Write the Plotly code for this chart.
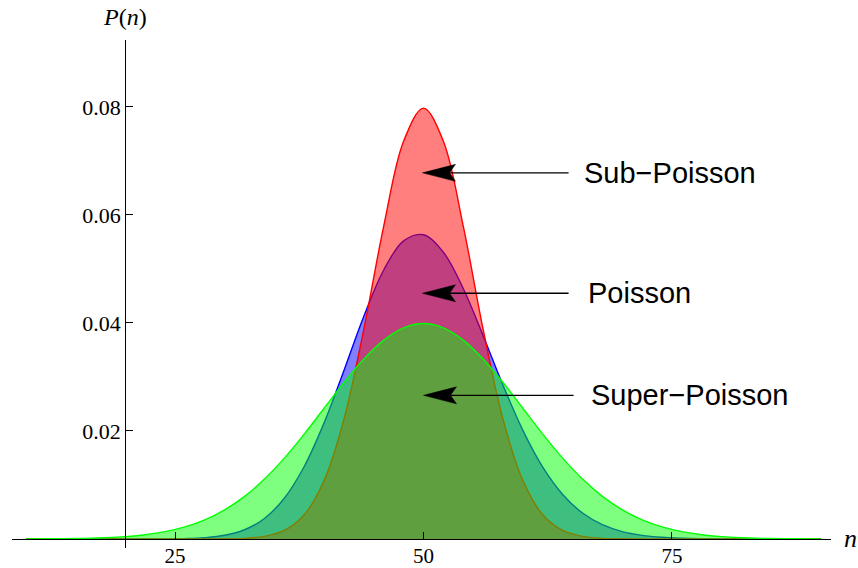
import plotly.graph_objects as go

# photon-number values n
n = [10, 12, 14, 16, 18, 20, 22, 24, 26, 28, 30, 32, 34, 36, 38, 40, 42, 44, 46, 48,
     50, 52, 54, 56, 58, 60, 62, 64, 66, 68, 70, 72, 74, 76, 78, 80, 82, 84, 86, 88, 90]

# probability P(n) for each statistics
p_poisson = [0, 0, 0, 0, 0, 0, 0, 0.00002, 0.00007, 0.00024, 0.00068, 0.00171, 0.00380,
             0.00755, 0.01342, 0.02150, 0.03121, 0.04124, 0.04981, 0.05520, 0.05633,
             0.05310, 0.04638, 0.03765, 0.02847, 0.02011, 0.01329, 0.00824, 0.00480,
             0.00264, 0.00136, 0.00067, 0.00031, 0.00014, 0.00006, 0.00002, 0, 0, 0, 0, 0]
p_sub = [0, 0, 0, 0, 0, 0, 0, 0, 0, 0, 0.00003, 0.00012, 0.00048, 0.00158, 0.00448,
         0.01080, 0.02218, 0.03884, 0.05794, 0.07366, 0.07979, 0.07366, 0.05794, 0.03884,
         0.02218, 0.01080, 0.00448, 0.00158, 0.00048, 0.00012, 0.00003,
         0, 0, 0, 0, 0, 0, 0, 0, 0, 0]
p_super = [0.00001, 0.00003, 0.00006, 0.00012, 0.00024, 0.00044, 0.00079, 0.00136, 0.00224,
           0.00355, 0.00540, 0.00789, 0.01109, 0.01497, 0.01942, 0.02420, 0.02897, 0.03332,
           0.03682, 0.03910, 0.03989, 0.03910, 0.03682, 0.03332, 0.02897, 0.02420, 0.01942,
           0.01497, 0.01109, 0.00789, 0.00540, 0.00355, 0.00224, 0.00136, 0.00079, 0.00044,
           0.00024, 0.00012, 0.00006, 0.00003, 0.00001]

x_ticks = [25, 50, 75]
y_ticks = [0.02, 0.04, 0.06, 0.08]
y_tick_text = ["0.02", "0.04", "0.06", "0.08"]

x_range = [8.6, 91.0]
y_range = [-0.00167, 0.0924]
axis_x = 20   # where the vertical axis crosses
axis_y = 0    # where the horizontal axis crosses

# label, label left edge, label/arrow height, arrow head x, arrow tail x
labels = [
    ("Sub\u2212Poisson", 65.95, 0.0678, 49.9, 64.6),
    ("Poisson", 66.35, 0.0455, 49.9, 64.6),
    ("Super\u2212Poisson", 66.65, 0.0266, 50.0, 65.1),
]

series = [
    (p_poisson, "rgb(0,0,255)", "rgba(0,0,255,0.5)"),
    (p_sub, "rgb(255,0,0)", "rgba(255,0,0,0.5)"),
    (p_super, "rgb(0,255,0)", "rgba(0,255,0,0.5)"),
]

fig = go.Figure()
for ys, lc, fc in series:
    fig.add_trace(go.Scatter(
        x=n, y=ys, mode="lines", fill="tozeroy",
        line=dict(color=lc, width=1.4, shape="spline", smoothing=1.0),
        fillcolor=fc, hoverinfo="skip", showlegend=False,
    ))

tick_font = dict(family="Liberation Serif", size=21, color="black")

xpos = (axis_y - y_range[0]) / (y_range[1] - y_range[0])
ypos = (axis_x - x_range[0]) / (x_range[1] - x_range[0])

fig.update_layout(
    width=858, height=568, autosize=False,
    margin=dict(l=12, r=27, t=40, b=20),
    paper_bgcolor="white", plot_bgcolor="white",
    xaxis=dict(range=x_range, anchor="free", position=xpos, showgrid=False,
               zeroline=False, showline=True, linecolor="black", linewidth=1.2,
               ticks="inside", ticklen=7, tickcolor="black", tickwidth=1,
               tickvals=x_ticks, tickfont=tick_font, automargin=False,
               ticklabelstandoff=-2),
    yaxis=dict(range=y_range, anchor="free", position=ypos, showgrid=False,
               zeroline=False, showline=True, linecolor="black", linewidth=1.2,
               ticks="inside", ticklen=7, tickcolor="black", tickwidth=1,
               tickvals=y_ticks, ticktext=y_tick_text,
               tickfont=dict(family="Liberation Serif", size=22, color="black"),
               automargin=False),
)

# arrows with notched heads
shapes = []
for text, lx, ly, hx, tx in labels:
    shapes.append(dict(type="line", xref="x", yref="y", x0=tx, x1=hx + 2.0, y0=ly, y1=ly,
                       line=dict(color="black", width=1.3)))
    shapes.append(dict(type="path", xref="x", yref="y", xsizemode="pixel", ysizemode="pixel",
                       xanchor=hx, yanchor=ly,
                       path="M0,0 L33,8.5 L27,0 L33,-8.5 Z",
                       fillcolor="black", line=dict(color="black", width=0.5)))
fig.update_layout(shapes=shapes)

annotations = []
for text, lx, ly, hx, tx in labels:
    annotations.append(dict(x=lx, y=ly, xref="x", yref="y", text=text, showarrow=False,
                            xanchor="left", yanchor="middle",
                            font=dict(family="Liberation Sans", size=29, color="black")))
annotations.append(dict(x=axis_x, y=1.045, xref="x", yref="paper", text="<i>P</i>(<i>n</i>)",
                        showarrow=False, xanchor="center", yanchor="middle",
                        font=dict(family="Liberation Serif", size=24, color="black")))
annotations.append(dict(x=1.024, y=axis_y, xref="paper", yref="y", text="<i>n</i>",
                        showarrow=False, xanchor="center", yanchor="middle",
                        font=dict(family="Liberation Serif", size=26, color="black")))
fig.update_layout(annotations=annotations)

fig.write_html("out.html")
